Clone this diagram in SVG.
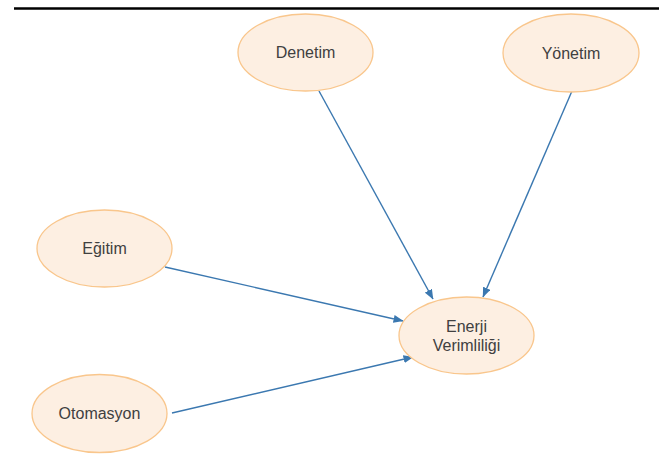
<svg xmlns="http://www.w3.org/2000/svg" width="662" height="460" viewBox="0 0 662 460">
<style>
.node ellipse{fill:#fdefe2;stroke:#f9c68c;stroke-width:1.3}
.node text{font-family:"Liberation Sans",Arial,sans-serif;font-size:16px;fill:#404040;text-anchor:middle}
.conn line{stroke:#3b78b0;stroke-width:1.4;fill:none}
</style>
<defs>
<marker id="arr" markerWidth="10" markerHeight="8" refX="9.5" refY="4" orient="auto" markerUnits="userSpaceOnUse">
<path d="M0,0 L10,4 L0,8 Z" fill="#3b78b0"/>
</marker>
</defs>
<rect width="662" height="460" fill="#ffffff"/>
<line x1="14" y1="8.5" x2="659" y2="8.5" stroke="#000" stroke-width="2.5"/>
<g class="conn">
<line x1="319" y1="91" x2="433" y2="299" marker-end="url(#arr)"/>
<line x1="572" y1="91" x2="483" y2="297" marker-end="url(#arr)"/>
<line x1="165" y1="267" x2="403" y2="321" marker-end="url(#arr)"/>
<line x1="172" y1="413" x2="413" y2="357" marker-end="url(#arr)"/>
</g>
<g id="denetim" class="node"><ellipse cx="305.5" cy="52.5" rx="67.5" ry="38.5"/><text x="305.5" y="58">Denetim</text></g>
<g id="yonetim" class="node"><ellipse cx="571" cy="53" rx="68" ry="39"/><text x="571" y="58.5">Yönetim</text></g>
<g id="egitim" class="node"><ellipse cx="104.5" cy="248.5" rx="67.5" ry="38.5"/><text x="104.5" y="254">Eğitim</text></g>
<g id="enerji" class="node"><ellipse cx="466.5" cy="335.5" rx="67.5" ry="38.5"/><text x="466.5" y="331.5">Enerji</text><text x="466.5" y="351">Verimliliği</text></g>
<g id="otomasyon" class="node"><ellipse cx="99.5" cy="413.5" rx="67.5" ry="39"/><text x="99.5" y="419">Otomasyon</text></g>
</svg>
